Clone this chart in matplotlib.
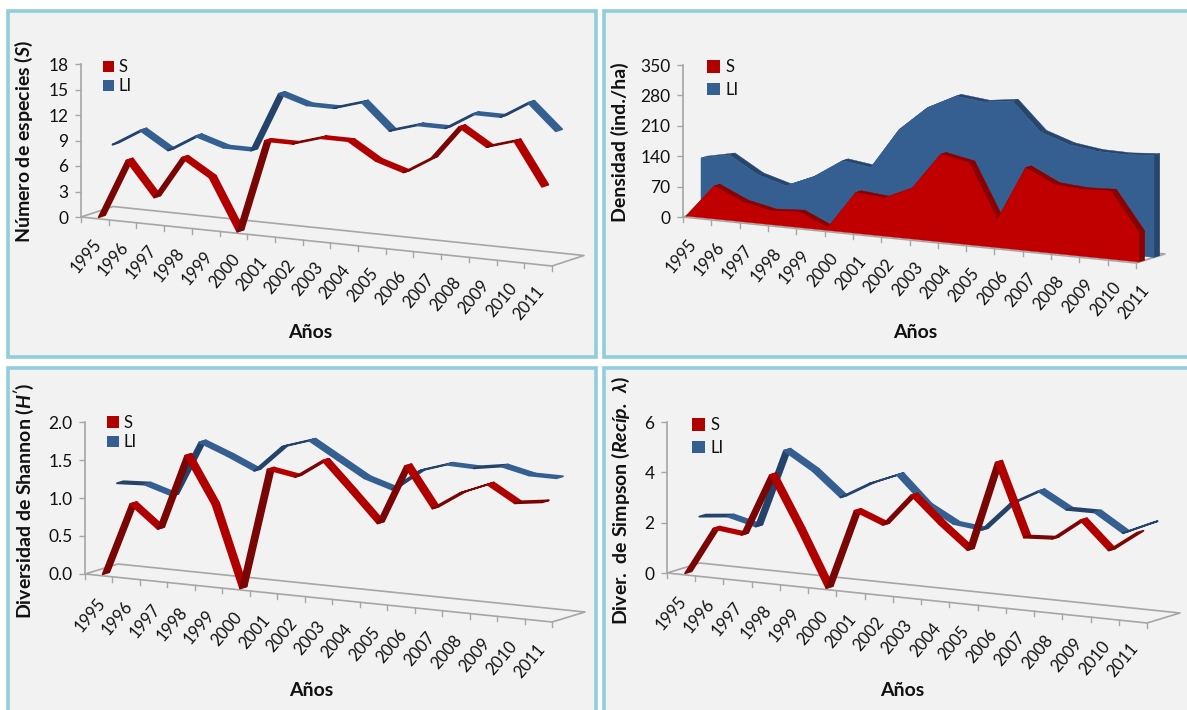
import matplotlib
matplotlib.use('Agg')
import matplotlib.pyplot as plt
from matplotlib.patches import Patch, Rectangle

plt.rcParams['font.family'] = ['Lato', 'DejaVu Sans']
plt.rcParams['mathtext.fontset'] = 'custom'
plt.rcParams['mathtext.rm'] = 'Lato:bold'
plt.rcParams['mathtext.bfit'] = 'Lato:italic:bold'
plt.rcParams['mathtext.fallback'] = 'stixsans'

years = list(range(1995, 2012))

species_s = [0, 7, 3, 8, 6, 0, 11, 11, 12, 12, 10, 9, 11, 15, 13, 14, 9]
species_li = [8, 10, 8, 10, 9, 9, 16, 15, 15, 16, 13, 14, 14, 16, 16, 18, 15]

density_s = [0, 76, 46, 32, 36, 6, 94, 88, 118, 202, 189, 65, 191, 159, 154, 157, 68]
density_li = [123, 137, 98, 79, 107, 150, 141, 235, 292, 325, 318, 327, 262, 240, 231, 230, 235]

shannon_s = [0, 0.96, 0.67, 1.67, 1.06, 0, 1.60, 1.54, 1.79, 1.42, 1.04, 1.83, 1.31, 1.55, 1.70, 1.49, 1.54]
shannon_li = [1.14, 1.16, 1.05, 1.79, 1.65, 1.49, 1.84, 1.96, 1.75, 1.54, 1.43, 1.71, 1.83, 1.82, 1.88, 1.80, 1.80]

simpson_s = [0, 1.89, 1.76, 4.25, 2.2, 0, 3.18, 2.74, 4.03, 3.0, 2.09, 5.68, 2.82, 2.89, 3.74, 2.66, 3.48]
simpson_li = [2.08, 2.2, 1.92, 5.05, 4.37, 3.43, 4.08, 4.55, 3.45, 2.84, 2.72, 3.87, 4.49, 3.87, 3.88, 3.18, 3.69]

W, H = 1187, 710
RED, RED_DK, RED_SIDE = '#b00000', '#7a0505', '#8c0000'
BLUE, BLUE_DK, BLUE_SIDE = '#365f91', '#24426a', '#26466e'
GREY = '#a6a6a6'
TEXT = '#111111'

fig = plt.figure(figsize=(W / 100, H / 100), dpi=100, facecolor='white')

# panel frames, in pixels from the top left
for left, top, right, bottom in [(8, 11, 596, 357), (604, 11, 1195, 357),
                                 (8, 368, 596, 720), (604, 368, 1195, 720)]:
    fig.add_artist(Rectangle((left / W, 1 - bottom / H), (right - left) / W, (bottom - top) / H,
                             transform=fig.transFigure, facecolor='#f2f2f2',
                             edgecolor='#92cddc', linewidth=2.6, zorder=-1))


def make_panel(x0, x1, y0, y_top, y_end, back, ymax, step, ncat):
    # x0/x1 axis ends, y0 zero line, y_top top of y axis, y_end front floor end, back = depth offset
    ax = fig.add_axes([x0 / W, 1 - y0 / H, (x1 - x0) / W, (y0 - y_top) / H])
    ax.set_xlim(0, ncat)
    ax.set_ylim(0, ymax)
    ax.patch.set_alpha(0)
    for name in ['top', 'right', 'bottom']:
        ax.spines[name].set_visible(False)
    ax.spines['left'].set_color(GREY)
    ax.spines['left'].set_linewidth(1.2)
    ax.set_xticks([])
    ax.set_yticks([step * k for k in range(int(round(ymax / step)) + 1)])
    ax.tick_params(axis='y', length=4, width=1, color=GREY, labelsize=12.5, labelcolor=TEXT, pad=5)
    ux = (x1 - x0) / ncat
    uy = (y0 - y_top) / ymax
    slope = (y_end - y0) / uy / ncat

    def project(x, v, d):
        return x + d * back[0] / ux, v - slope * x - d * back[1] / uy

    # floor outline and tick marks
    corners = [project(0, 0, 0), project(ncat, 0, 0), project(ncat, 0, 1), project(0, 0, 1), project(0, 0, 0)]
    ax.plot([c[0] for c in corners], [c[1] for c in corners], color=GREY, lw=1.2, clip_on=False, zorder=1)
    for k in range(ncat + 1):
        px, py = project(k, 0, 0)
        ax.plot([px, px], [py, py - 5 / uy], color=GREY, lw=1, clip_on=False, zorder=1)
    return ax, project


def ribbon(ax, project, values, depth, width, col, col_dk, off=0.5, zorder=3):
    for i in range(len(values) - 1):
        a1 = project(i + off, values[i], depth - width)
        b1 = project(i + 1 + off, values[i + 1], depth - width)
        b2 = project(i + 1 + off, values[i + 1], depth + width)
        a2 = project(i + off, values[i], depth + width)
        c = col_dk if values[i + 1] - values[i] > 0 else col
        ax.fill([a1[0], b1[0], b2[0], a2[0]], [a1[1], b1[1], b2[1], a2[1]], color=c, lw=1.3,
                joinstyle='round', clip_on=False, zorder=zorder)


def area(ax, project, values, depth, width, col, col_side, zorder):
    n = len(values)
    for i in range(n - 1):
        a1 = project(i, values[i], depth)
        b1 = project(i + 1, values[i + 1], depth)
        b2 = project(i + 1, values[i + 1], depth + width)
        a2 = project(i, values[i], depth + width)
        ax.fill([a1[0], b1[0], b2[0], a2[0]], [a1[1], b1[1], b2[1], a2[1]], color=col_side, lw=0.3,
                clip_on=False, zorder=zorder)
    # closing wall on the right
    p = [project(n - 1, 0, depth), project(n - 1, values[-1], depth),
         project(n - 1, values[-1], depth + width), project(n - 1, 0, depth + width)]
    ax.fill([q[0] for q in p], [q[1] for q in p], color=col_side, lw=0.3, clip_on=False, zorder=zorder)
    top = [project(i, values[i], depth) for i in range(n)]
    low = [project(i, 0, depth) for i in range(n)][::-1]
    pts = top + low
    ax.fill([q[0] for q in pts], [q[1] for q in pts], color=col, lw=0.3, clip_on=False, zorder=zorder + 0.5)


def finish(ax, project, ncat, off, label_xy, ylab, ylab_xy, xlab_xy, leg_xy, leg_space, leg_size):
    for k, yr in enumerate(years):
        ax.annotate(str(yr), xy=project(k + off, 0, 0), xytext=label_xy, textcoords='offset pixels',
                    rotation=50, ha='center', va='center', fontsize=12, color=TEXT, annotation_clip=False)
    ax.set_ylabel(ylab, fontsize=14, fontweight='bold', color=TEXT, va='center')
    ax.yaxis.set_label_coords(ylab_xy[0] / W, 1 - ylab_xy[1] / H, transform=fig.transFigure)
    ax.set_xlabel('Años', fontsize=14, fontweight='bold', color=TEXT, va='center')
    ax.xaxis.set_label_coords(xlab_xy[0] / W, 1 - xlab_xy[1] / H, transform=fig.transFigure)
    handles = [Patch(facecolor=RED, lw=0, label='S'), Patch(facecolor=BLUE, lw=0, label='LI')]
    ax.legend(handles=handles, loc='upper left', bbox_to_anchor=(leg_xy[0] / W, 1 - leg_xy[1] / H),
              bbox_transform=fig.transFigure, frameon=False, borderpad=0, borderaxespad=0, fontsize=12,
              handlelength=leg_size, handleheight=leg_size, handletextpad=0.3, labelspacing=leg_space,
              labelcolor=TEXT)


# Numero de especies
ax, proj = make_panel(81, 552, 217, 64, 266, (32, -10.5), 18, 3, 17)
ribbon(ax, proj, species_li, 0.65, 0.1, BLUE, BLUE_DK)
ribbon(ax, proj, species_s, 0.22, 0.1, RED, RED_DK, zorder=4)
finish(ax, proj, 17, 0.5, (-9, -38), r'Número de especies ($\mathbfit{S}$)', (24, 142), (310, 332), (103, 59), 0.2, 0.65)

# Densidad
ax, proj = make_panel(683, 1136, 217, 65, 263, (29, -9), 350, 70, 16)
ax.set_xlim(0, 16)
area(ax, proj, density_li, 0.62, 0.2, BLUE, BLUE_SIDE, 2)
area(ax, proj, density_s, 0.1, 0.2, '#c00000', RED_SIDE, 3)
finish(ax, proj, 16, 0, (-2, -39), 'Densidad (ind./ha)', (620, 142), (915, 332), (707, 59), 0.4, 0.8)

# Shannon
ax, proj = make_panel(85, 552, 574, 422, 622, (33, -10), 2.0, 0.5, 17)
ax.set_yticklabels(['0.0', '0.5', '1.0', '1.5', '2.0'])
ribbon(ax, proj, shannon_li, 0.65, 0.1, BLUE, BLUE_DK)
ribbon(ax, proj, shannon_s, 0.22, 0.1, RED, RED_DK, zorder=4)
finish(ax, proj, 17, 0.5, (-9, -40), r"Diversidad de Shannon ($\mathbfit{H'}$)", (24, 501), (311, 690), (107, 415), 0.2, 0.7)

# Simpson
ax, proj = make_panel(667, 1147, 573, 422, 623, (33, -10), 6, 2, 17)
ribbon(ax, proj, simpson_li, 0.65, 0.1, BLUE, BLUE_DK)
ribbon(ax, proj, simpson_s, 0.22, 0.1, RED, RED_DK, zorder=4)
finish(ax, proj, 17, 0.5, (-10, -39), r'Diver.  de Simpson ($\mathbfit{Recíp.\ λ}$)', (621, 501), (902, 690), (692, 417), 0.4, 0.8)

plt.savefig('out.png', dpi=100)
